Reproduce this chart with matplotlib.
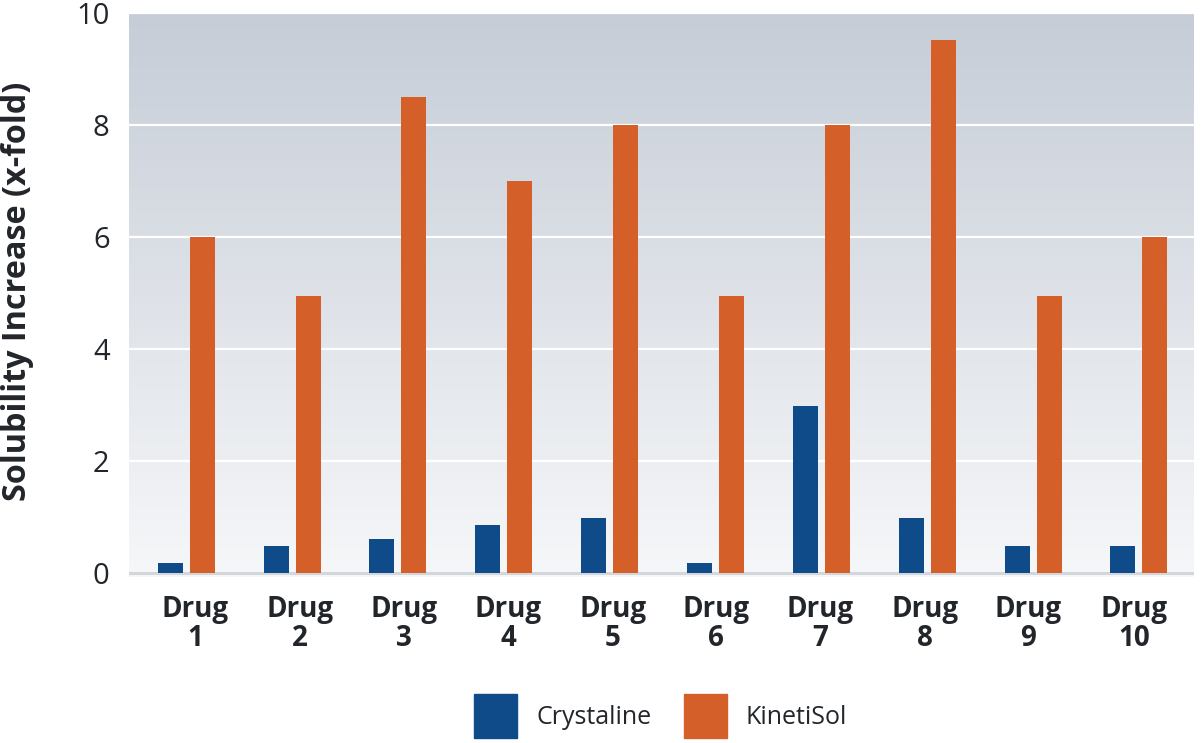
import numpy as np
import matplotlib
matplotlib.use("Agg")
import matplotlib.pyplot as plt
from matplotlib.patches import Patch

plt.rcParams['font.family'] = ['Open Sans', 'DejaVu Sans']

drugs = ["Drug\n1", "Drug\n2", "Drug\n3", "Drug\n4", "Drug\n5",
         "Drug\n6", "Drug\n7", "Drug\n8", "Drug\n9", "Drug\n10"]
crystaline = [0.18, 0.48, 0.6, 0.86, 0.98, 0.18, 2.98, 0.98, 0.48, 0.48]
kinetisol = [6.0, 4.95, 8.5, 7.0, 8.0, 4.95, 8.0, 9.52, 4.95, 6.0]
series_names = ["Crystaline", "KinetiSol"]
yticks = [0, 2, 4, 6, 8, 10]

BLUE = "#0f4b88"
ORANGE = "#d45f28"
TXT = "#22262b"

W, H = 1203, 743
fig = plt.figure(figsize=(W / 100, H / 100), dpi=100)
AX_L, AX_R = 129, 1194
ax = fig.add_axes([AX_L / W, 1 - 577 / H, (AX_R - AX_L) / W, (577 - 13) / H])

# gradient background
top = np.array([198, 205, 215]) / 255
bot = np.array([246, 247, 249]) / 255
t = np.linspace(0, 1, 256)[:, None]
grad = (top[None, :] * (1 - t) + bot[None, :] * t).reshape(256, 1, 3)
ax.imshow(grad, extent=(0, 1, 0, 1), transform=ax.transAxes, aspect='auto', zorder=0)

x = np.arange(len(drugs))
bw = 0.236
off = 0.151
ax.bar(x - off, crystaline, bw, color=BLUE, zorder=3, label=series_names[0])
ax.bar(x + off, kinetisol, bw, color=ORANGE, zorder=3, label=series_names[1])

ax.set_xlim(-0.54, 9.52)
ax.set_ylim(-0.071, 10)
for s in ax.spines.values():
    s.set_visible(False)
for y in yticks[1:]:
    ax.axhline(y, color="white", lw=1.6, zorder=1)
ax.axhline(0, color="#d3d6db", lw=2.2, zorder=2)

ax.set_yticks(yticks)
ax.set_yticklabels([str(v) for v in yticks], fontsize=21, color=TXT)
label_pos = (np.array([195, 300, 404, 508, 613, 716, 820, 925, 1028, 1134]) - 186) / 105.9
ax.set_xticks(label_pos)
ax.set_xticklabels(drugs, fontsize=20, fontweight='bold', color=TXT, linespacing=1.0)
ax.tick_params(axis='y', length=0, pad=14)
ax.tick_params(axis='x', length=0, pad=13)
ax.set_ylabel("Solubility Increase (x-fold)", fontsize=23.3, fontweight='bold', color=TXT)
ax.yaxis.set_label_coords((34 - AX_L) / (AX_R - AX_L), (577 - 291.5) / (577 - 13))

handles = [Patch(color=BLUE), Patch(color=ORANGE)]
fig.legend(handles, series_names, loc='center', bbox_to_anchor=(660.5 / W, 1 - 716 / H),
           ncol=2, frameon=False, fontsize=18, handlelength=1.72, handleheight=2.27,
           handletextpad=0.76, columnspacing=1.3, labelcolor=TXT)

fig.savefig("out.png", dpi=100)
